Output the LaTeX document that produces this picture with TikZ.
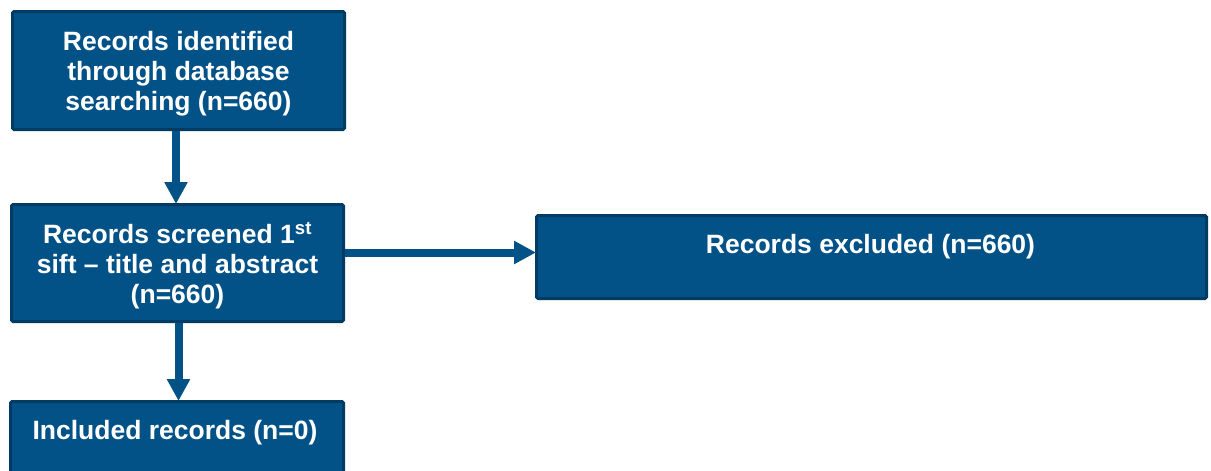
\documentclass[tikz,border=0pt]{standalone}
\usepackage{fontspec}
\setmainfont{Liberation Sans}
\usetikzlibrary{arrows.meta}
\definecolor{boxfill}{RGB}{2,82,136}
\definecolor{boxline}{RGB}{0,59,99}
\tikzset{
  box/.style={rectangle, fill=boxfill, draw=boxline, line width=3pt,
    rounded corners=1.5pt, inner sep=0pt},
  txt/.style={text=white, font=\bfseries\fontsize{26.5}{30}\selectfont,
    align=center, inner sep=0pt},
  flow/.style={draw=boxfill, line width=8pt,
    -{Triangle[width=22pt,length=22pt]}, shorten >=-1pt}
}
\begin{document}
\begin{tikzpicture}[x=1pt,y=-1pt]
  \useasboundingbox (0,0) rectangle (1211,471);
  \clip (0,0) rectangle (1211,471);

  % boxes
  \node[box, minimum width=332pt, minimum height=118pt] (b1) at (178.5,70.5) {};
  \node[box, minimum width=332pt, minimum height=117pt] (b2) at (177.5,263) {};
  \node[box, minimum width=670pt, minimum height=83pt] (b3) at (871.5,257) {};
  \node[box, minimum width=333pt, minimum height=83pt] (b4) at (177,443) {};

  % labels
  \node[txt] (t1) at (178.5,74) {Records identified\\through database\\searching (n=660)};
  \node[txt] (t2) at (177.5,266) {Records screened 1\textsuperscript{st}\\sift -- title and abstract\\(n=660)};
  \node[txt] (t3) at (870.5,247) {Records excluded (n=660)};
  \node[txt] (t4) at (175,433) {Included records (n=0)};

  % connectors
  \coordinate (p1) at ([xshift=-2.5pt]b1.south);
  \draw[flow] (p1) -- (p1 |- b2.north);
  \coordinate (p2) at ([xshift=1pt]b2.south);
  \draw[flow] (p2) -- (p2 |- b4.north);
  \coordinate (p3) at ([yshift=10.5pt]b2.east);
  \draw[flow] (p3) -- (p3 -| b3.west);
\end{tikzpicture}
\end{document}
